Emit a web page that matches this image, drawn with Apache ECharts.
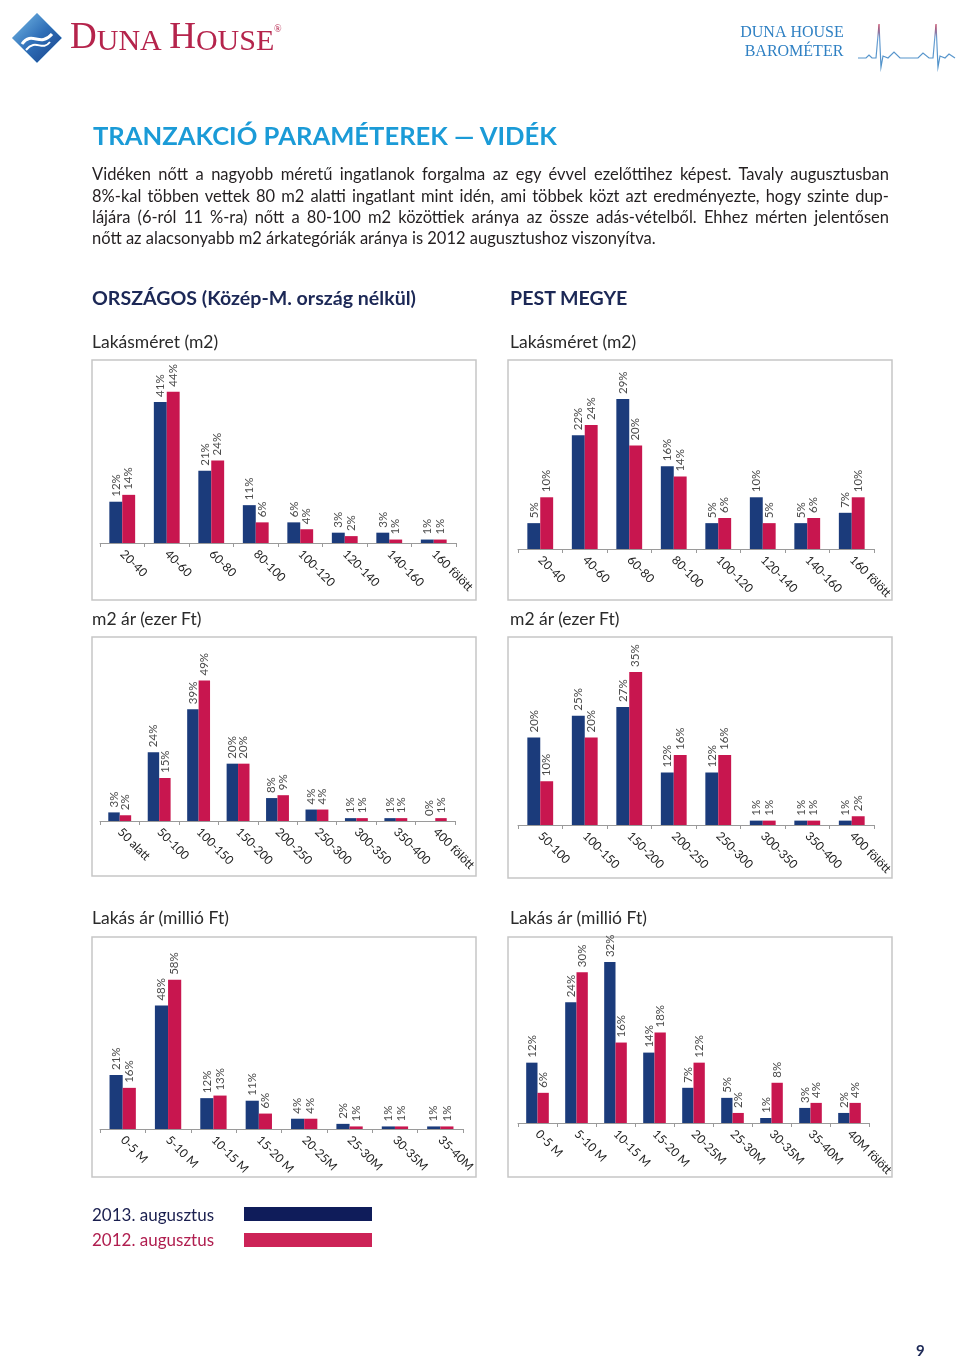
<!DOCTYPE html>
<html>
<head>
<meta charset="utf-8">
<script src="https://cdn.jsdelivr.net/npm/echarts@6/dist/echarts.min.js"></script>
<style>
  html, body { margin: 0; padding: 0; background: #fff; }
  #page { position: relative; width: 960px; height: 1360px; overflow: hidden; font-family: Lato, "Open Sans", sans-serif; }
  #chart { position: absolute; left: 0; top: 0; width: 960px; height: 1360px; }
  .t { position: absolute; white-space: nowrap; }
  .title { left: 93px; top: 120px; font-size: 25.6px; font-weight: 700; color: #1b9bd7; }
  .para { left: 92px; font-size: 16.5px; color: #231f20; }
  .h2 { font-size: 19.6px; font-weight: 700; color: #1c2856; }
  .h3 { font-size: 17.5px; color: #2a2a2a; }
  .leg { font-size: 17px; }
  .pn { left: 916px; top: 1341px; font-size: 15px; font-weight: 700; color: #1c2856; }
</style>
</head>
<body>
<div id="page">
  <div id="chart"></div>
  <div class="t title">TRANZAKCIÓ PARAMÉTEREK — VIDÉK</div>
  <div class="t para" style="top:164px"><span>Vidéken nőtt a nagyobb méretű ingatlanok forgalma az egy évvel ezelőttihez képest. Tavaly augusztusban</span></div>
  <div class="t para" style="top:186px"><span>8%-kal többen vettek 80 m2 alatti ingatlant mint idén, ami többek közt azt eredményezte, hogy szinte dup-</span></div>
  <div class="t para" style="top:207px"><span>lájára (6-ról 11 %-ra) nőtt a 80-100 m2 közöttiek aránya az össze adás-vételből. Ehhez mérten jelentősen</span></div>
  <div class="t para last" style="top:228px"><span>nőtt az alacsonyabb m2 árkategóriák aránya is 2012 augusztushoz viszonyítva.</span></div>
  <div class="t h2" style="left:92px; top:286px">ORSZÁGOS (Közép-M. ország nélkül)</div>
  <div class="t h2" style="left:510px; top:286px">PEST MEGYE</div>
  <div class="t h3" style="left:92px; top:331px">Lakásméret (m2)</div>
  <div class="t h3" style="left:510px; top:331px">Lakásméret (m2)</div>
  <div class="t h3" style="left:92px; top:608px">m2 ár (ezer Ft)</div>
  <div class="t h3" style="left:510px; top:608px">m2 ár (ezer Ft)</div>
  <div class="t h3" style="left:92px; top:907px">Lakás ár (millió Ft)</div>
  <div class="t h3" style="left:510px; top:907px">Lakás ár (millió Ft)</div>
  <div class="t leg" style="left:92px; top:1204px; color:#1a1f4f">2013. augusztus</div>
  <div class="t leg" style="left:92px; top:1229px; color:#b01e4f">2012. augusztus</div>
  <div class="t pn">9</div>
</div>
<script>
// ---- data ----
const sizeCats = ['20-40', '40-60', '60-80', '80-100', '100-120', '120-140', '140-160', '160 fölött'];
const videkSize2013 = [12, 41, 21, 11, 6, 3, 3, 1];
const videkSize2012 = [14, 44, 24, 6, 4, 2, 1, 1];
const pestSize2013 = [5, 22, 29, 16, 5, 10, 5, 7];
const pestSize2012 = [10, 24, 20, 14, 6, 5, 6, 10];

const videkM2Cats = ['50 alatt', '50-100', '100-150', '150-200', '200-250', '250-300', '300-350', '350-400', '400 fölött'];
const videkM2_2013 = [3, 24, 39, 20, 8, 4, 1, 1, 0];
const videkM2_2012 = [2, 15, 49, 20, 9, 4, 1, 1, 1];
const pestM2Cats = ['50-100', '100-150', '150-200', '200-250', '250-300', '300-350', '350-400', '400 fölött'];
const pestM2_2013 = [20, 25, 27, 12, 12, 1, 1, 1];
const pestM2_2012 = [10, 20, 35, 16, 16, 1, 1, 2];

const videkPriceCats = ['0-5 M', '5-10 M', '10-15 M', '15-20 M', '20-25M', '25-30M', '30-35M', '35-40M'];
const videkPrice2013 = [21, 48, 12, 11, 4, 2, 1, 1];
const videkPrice2012 = [16, 58, 13, 6, 4, 1, 1, 1];
const pestPriceCats = ['0-5 M', '5-10 M', '10-15 M', '15-20 M', '20-25M', '25-30M', '30-35M', '35-40M', '40M fölött'];
const pestPrice2013 = [12, 24, 32, 14, 7, 5, 1, 3, 2];
const pestPrice2012 = [6, 30, 16, 18, 12, 2, 8, 4, 4];

const seriesNames = ['2013. augusztus', '2012. augusztus'];
const BLUE = '#1b3b7b';
const RED = '#c8164f';

// ---- justify paragraph lines ----
function justify() {
  document.querySelectorAll('.para').forEach(el => {
    if (el.classList.contains('last')) return;
    const span = el.querySelector('span');
    span.style.wordSpacing = '0px';
    const target = 797;
    const w = span.getBoundingClientRect().width;
    const gaps = (span.textContent.match(/ /g) || []).length;
    if (gaps > 0) span.style.wordSpacing = ((target - w) / gaps) + 'px';
  });
}
justify();
if (document.fonts && document.fonts.ready) document.fonts.ready.then(justify);

// ---- charts ----
const panels = [
  { cats: sizeCats, a: videkSize2013, b: videkSize2012, left: 100, width: 356, top: 371, height: 172, max: 50, box: [92, 360, 384, 240] },
  { cats: sizeCats, a: pestSize2013, b: pestSize2012, left: 518, width: 356, top: 368, height: 181, max: 35, box: [508, 360, 384, 240] },
  { cats: videkM2Cats, a: videkM2_2013, b: videkM2_2012, left: 100, width: 355, top: 649, height: 172, max: 60, box: [92, 637, 384, 239] },
  { cats: pestM2Cats, a: pestM2_2013, b: pestM2_2012, left: 518, width: 356, top: 650, height: 175, max: 40, box: [508, 637, 384, 241] },
  { cats: videkPriceCats, a: videkPrice2013, b: videkPrice2012, left: 100, width: 363, top: 949, height: 180, max: 70, box: [92, 937, 384, 240] },
  { cats: pestPriceCats, a: pestPrice2013, b: pestPrice2012, left: 518, width: 351, top: 947, height: 176, max: 35, box: [508, 937, 384, 240] }
];

const grid = [], xAxis = [], yAxis = [], series = [], graphic = [];
const labelCfg = {
  show: true, position: 'top', rotate: 90, align: 'left', verticalAlign: 'middle', distance: 5,
  formatter: '{c}%', fontSize: 11.5, color: '#4a4a4a', fontFamily: 'Lato'
};
panels.forEach((p, i) => {
  graphic.push({
    type: 'rect', silent: true, z: 0,
    shape: { x: p.box[0], y: p.box[1], width: p.box[2], height: p.box[3] },
    style: { fill: 'none', stroke: '#c6c6c6', lineWidth: 1.5 }
  });
  grid.push({ left: p.left, top: p.top, width: p.width, height: p.height, containLabel: false });
  xAxis.push({
    type: 'category', gridIndex: i, data: p.cats,
    axisLine: { lineStyle: { color: '#9a9a9a', width: 1 } },
    axisTick: { show: true, length: 4, lineStyle: { color: '#9a9a9a' } },
    axisLabel: { rotate: -45, margin: 9, fontSize: 12, color: '#222', fontFamily: 'Lato', interval: 0 }
  });
  yAxis.push({ type: 'value', gridIndex: i, min: 0, max: p.max, show: false, splitLine: { show: false } });
  [p.a, p.b].forEach((d, k) => {
    series.push({
      type: 'bar', name: seriesNames[k], xAxisIndex: i, yAxisIndex: i, data: d,
      barGap: '0%', barCategoryGap: '42%',
      itemStyle: { color: k === 0 ? BLUE : RED },
      label: labelCfg, animation: false
    });
  });
});

// legend swatches
graphic.push({ type: 'rect', shape: { x: 244, y: 1207, width: 128, height: 14 }, style: { fill: '#0f1c5a' } });
graphic.push({ type: 'rect', shape: { x: 244, y: 1233, width: 128, height: 14 }, style: { fill: '#cc2357' } });

// header logo
graphic.push({
  type: 'polygon', shape: { points: [[37, 13], [62, 38], [37, 63], [12, 38]], smooth: 0 },
  style: { fill: new echarts.graphic.LinearGradient(0, 0, 1, 1, [{ offset: 0, color: '#7cc0ea' }, { offset: 0.5, color: '#2f6fb8' }, { offset: 1, color: '#173e86' }]), stroke: '#9fc4e4', lineWidth: 1 }
});
graphic.push({
  type: 'bezierCurve', shape: { x1: 22, y1: 44, x2: 52, y2: 34, cpx1: 32, cpy1: 30, cpx2: 40, cpy2: 48 },
  style: { stroke: '#ffffff', lineWidth: 3, fill: 'none' }
});
graphic.push({
  type: 'bezierCurve', shape: { x1: 26, y1: 50, x2: 50, y2: 42, cpx1: 36, cpy1: 38, cpx2: 42, cpy2: 52 },
  style: { stroke: '#ffffff', lineWidth: 2, fill: 'none' }
});
graphic.push({
  type: 'text', x: 70, y: 57,
  style: {
    text: '{a|D}{b|UNA }{a|H}{b|OUSE}', fill: '#b5244c', verticalAlign: 'bottom',
    rich: {
      a: { fontFamily: 'Liberation Serif', fontSize: 37, fill: '#b5244c', verticalAlign: 'bottom' },
      b: { fontFamily: 'Liberation Serif', fontSize: 30, fill: '#b5244c', verticalAlign: 'bottom' }
    }
  }
});
graphic.push({ type: 'text', x: 274, y: 24, style: { text: '®', fontSize: 10, fill: '#b5244c', fontFamily: 'Liberation Serif' } });
graphic.push({ type: 'text', x: 792, y: 33, style: { text: 'DUNA HOUSE', fontFamily: 'Liberation Serif', fontSize: 16, fill: '#2f80c3', align: 'center', verticalAlign: 'middle' } });
graphic.push({ type: 'text', x: 794, y: 52, style: { text: 'BAROMÉTER', fontFamily: 'Liberation Serif', fontSize: 16, fill: '#2f80c3', align: 'center', verticalAlign: 'middle' } });
graphic.push({
  type: 'polyline',
  shape: { points: [[858, 58], [866, 58], [869, 55], [872, 58], [876, 58], [879, 24], [881, 67], [883, 56], [888, 58], [894, 52], [900, 58], [918, 58], [923, 53], [929, 58], [933, 58], [936, 24], [938, 67], [940, 56], [945, 58], [949, 54], [955, 58]] },
  style: {
    stroke: new echarts.graphic.LinearGradient(0, 0, 0, 1, [{ offset: 0, color: '#d0304c' }, { offset: 0.35, color: '#6a9fd2' }, { offset: 1, color: '#4a8fc8' }]),
    lineWidth: 1.2, fill: 'none'
  }
});

const chart = echarts.init(document.getElementById('chart'), null, { renderer: 'canvas' });
chart.setOption({
  animation: false,
  textStyle: { fontFamily: 'Lato' },
  grid, xAxis, yAxis, series, graphic
});
</script>
</body>
</html>
